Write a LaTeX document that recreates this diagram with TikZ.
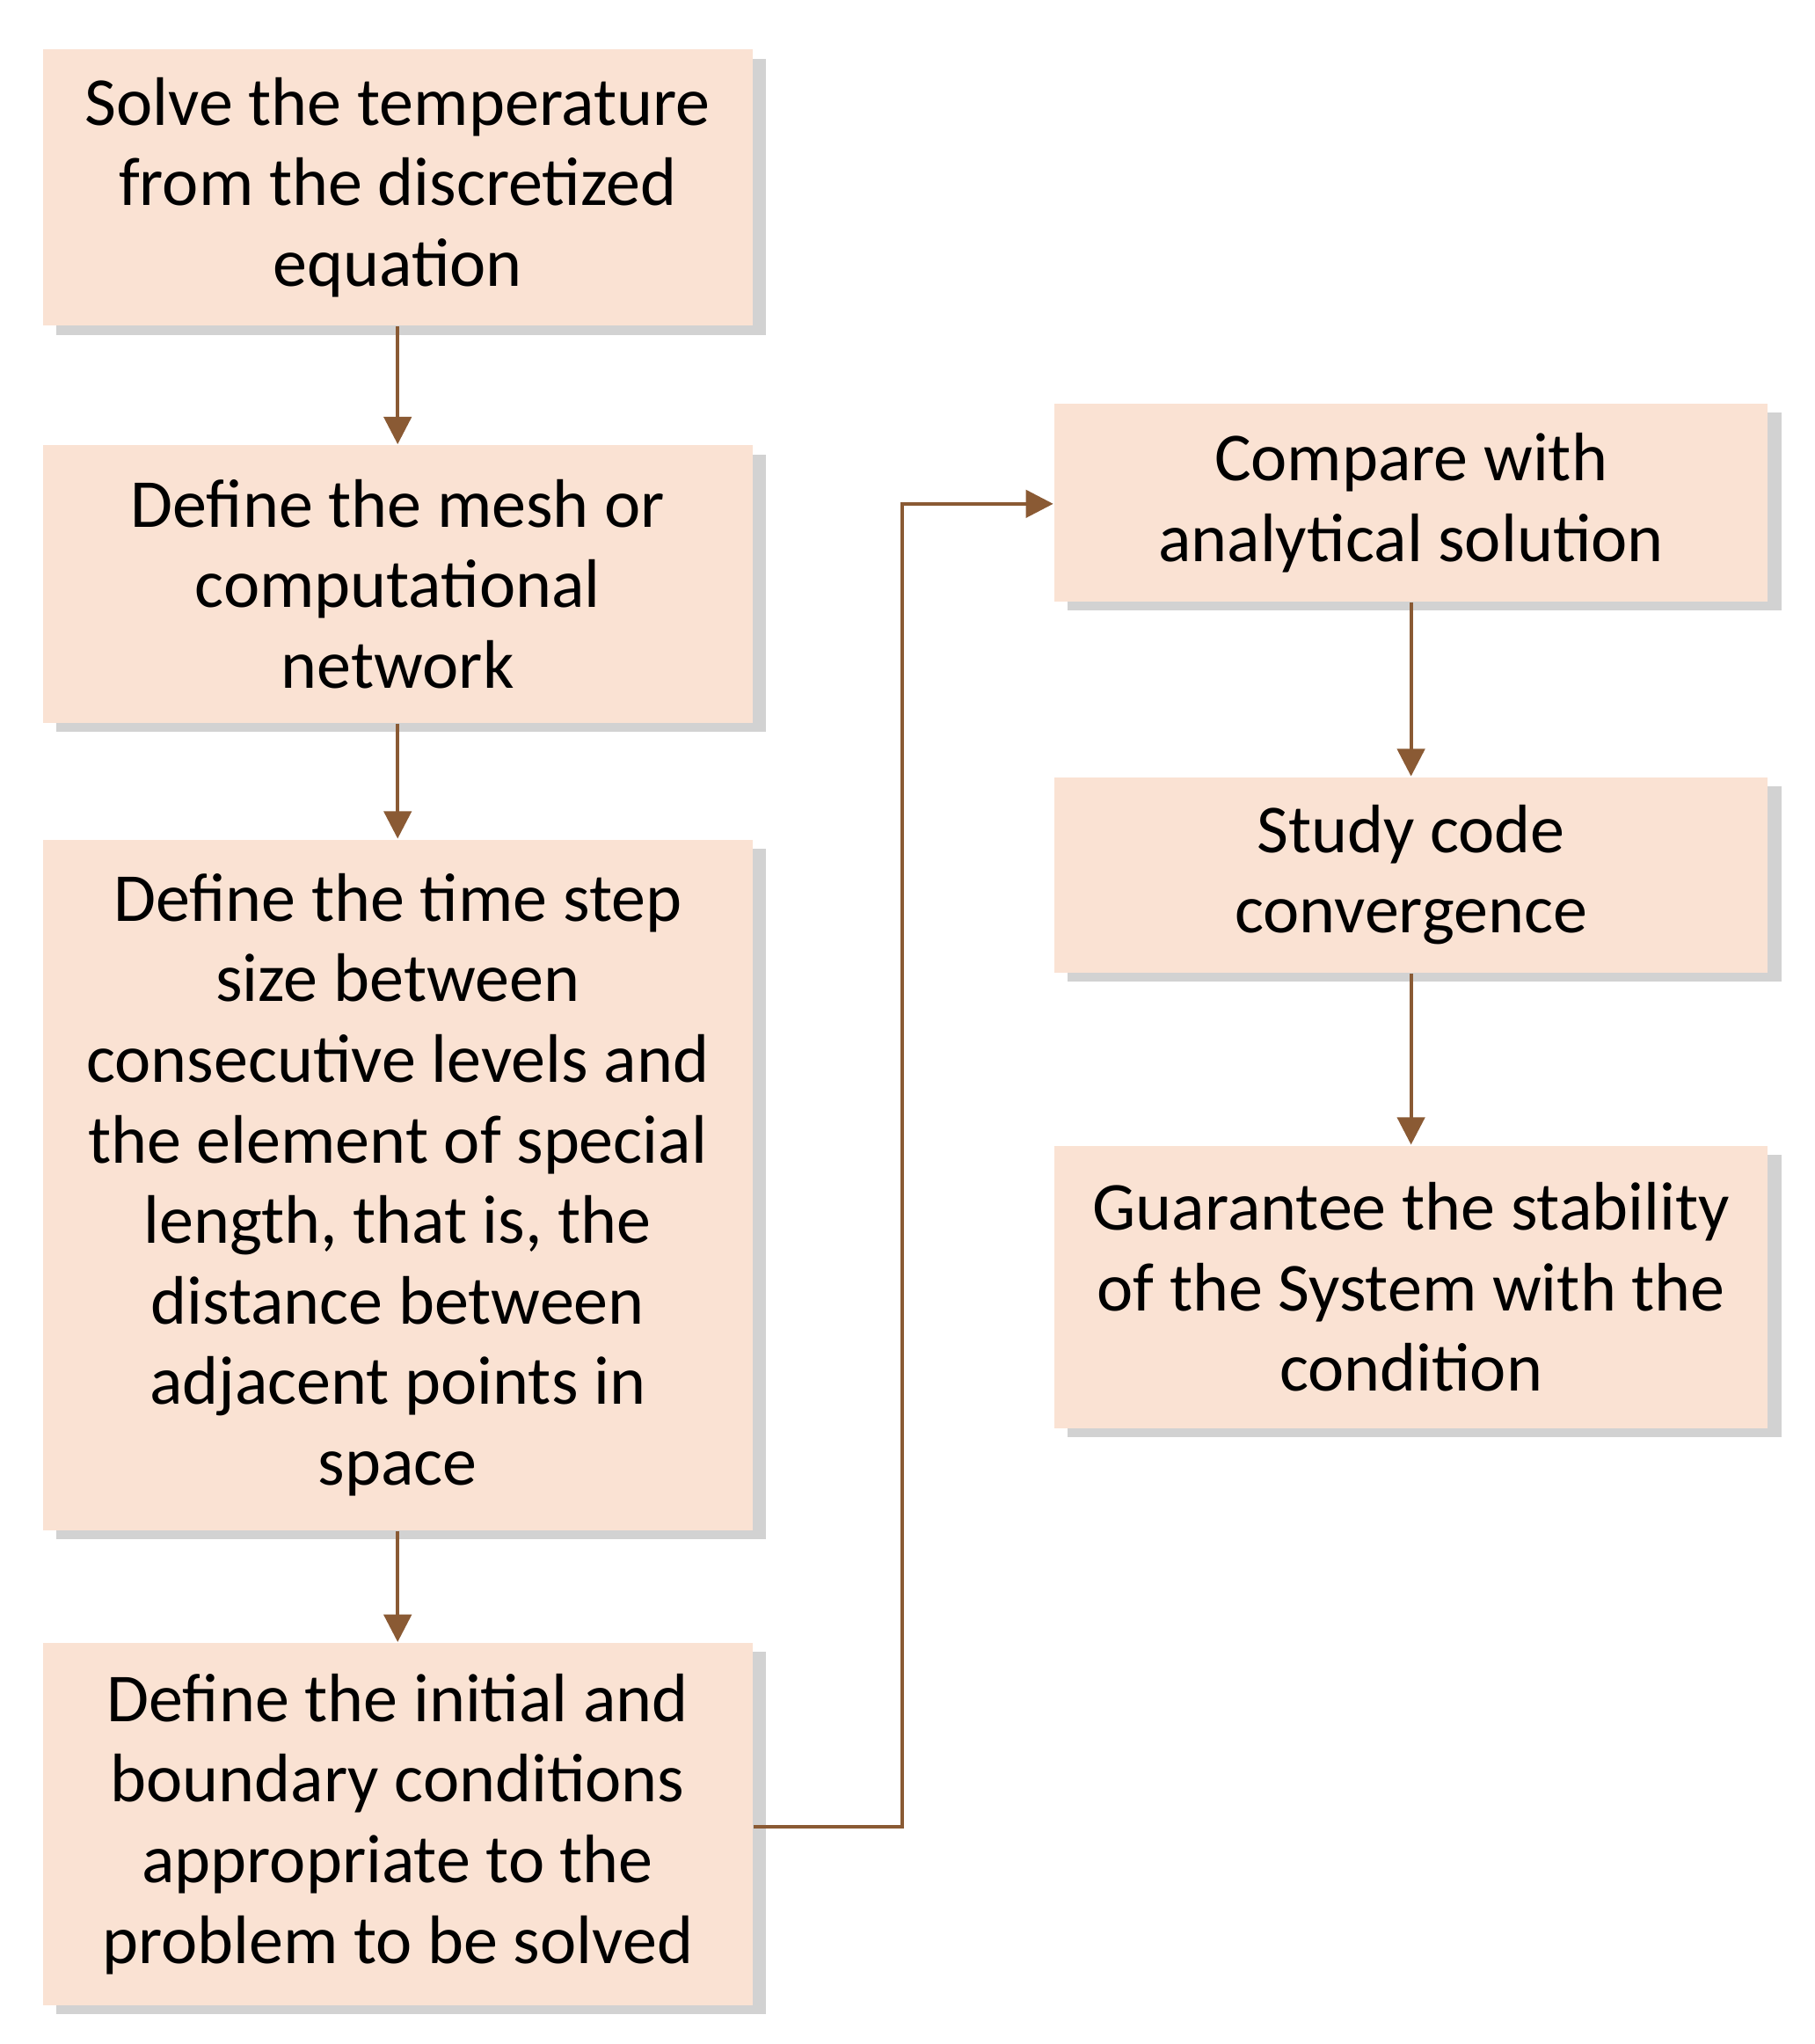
\documentclass[tikz,border=0pt]{standalone}
\usepackage{fontspec}
\setmainfont{Carlito}
\usetikzlibrary{shadows,arrows.meta}
\definecolor{boxfill}{HTML}{FAE2D3}
\definecolor{arr}{HTML}{8A5A34}
\begin{document}
\begin{tikzpicture}[x=0.01cm,y=-0.01cm,
  box/.style={fill=boxfill,draw=none,inner sep=0pt,align=center,
    font=\fontsize{15}{17.6}\selectfont,
    drop shadow={shadow xshift=3pt,shadow yshift=-2pt,opacity=0.35,fill=gray}},
  con/.style={draw=arr,line width=0.8pt,-{Triangle[length=6pt,width=6pt]}}]
\useasboundingbox (0,0) rectangle (1394,1570);
\fill[white] (0,0) rectangle (1394,1570);
\node[box,minimum width=5.45cm,minimum height=2.12cm] (a) at (305.5,144) {Solve the temperature\\from the discretized\\equation};
\node[box,minimum width=5.45cm,minimum height=2.13cm] (b) at (305.5,448.5) {Define the mesh or\\computational\\network};
\node[box,minimum width=5.45cm,minimum height=5.30cm] (c) at (305.5,910) {Define the time step\\size between\\consecutive levels and\\the element of special\\length, that is, the\\distance between\\adjacent points in\\space};
\node[box,minimum width=5.45cm,minimum height=2.78cm] (d) at (305.5,1401) {Define the initial and\\boundary conditions\\appropriate to the\\problem to be solved};
\node[box,minimum width=5.48cm,minimum height=1.52cm] (e) at (1084,386) {Compare with\\analytical solution};
\node[box,minimum width=5.48cm,minimum height=1.50cm] (f) at (1084,672) {Study code\\convergence};
\node[box,minimum width=5.48cm,minimum height=2.17cm] (g) at (1084,988.5) {Guarantee the stability\\of the System with the\\condition};
\draw[con] (a) -- (b);
\draw[con] (b) -- (c);
\draw[con] (c) -- (d);
\draw[con] (e) -- (f);
\draw[con] (f) -- (g);
\coordinate (k1) at (693,1403);
\coordinate (k2) at (693,387);
\draw[con] (d.east|-k1) -- (k1) -- (k2) -- (e.west|-k2);
\end{tikzpicture}
\end{document}
